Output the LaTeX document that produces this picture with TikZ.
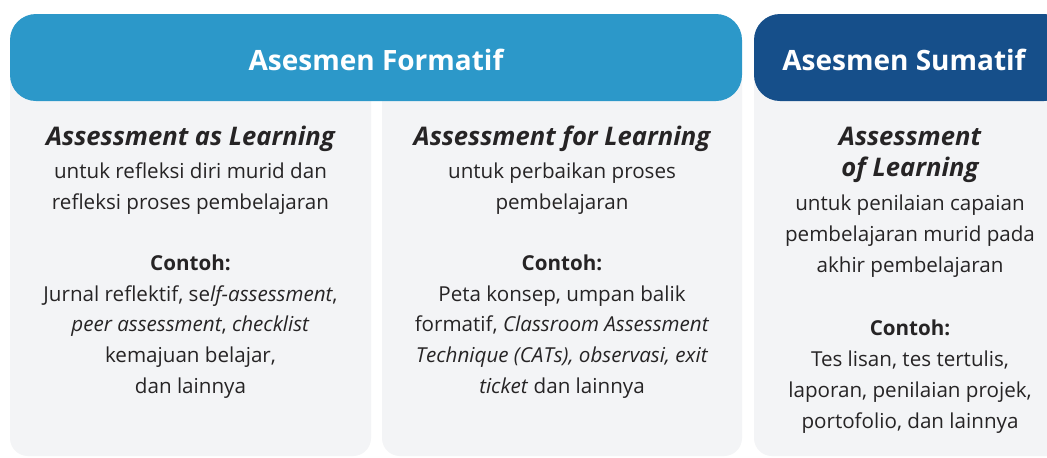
\documentclass[tikz,border=0pt]{standalone}
\usepackage{fontspec}
\setmainfont{Open Sans}
\usepackage{tikz}
\usepackage{xcolor}
\definecolor{formblue}{HTML}{2C98C9}
\definecolor{sumblue}{HTML}{164F8A}
\definecolor{panelgray}{HTML}{F3F4F6}
\definecolor{inkgray}{HTML}{262425}

\begin{document}
\begin{tikzpicture}[x=0.5pt, y=-0.5pt,
                    panel/.style={fill=panelgray, rounded corners=9pt},
                    header/.style={rounded corners=13pt},
                    headtext/.style={text=white, inner sep=0pt, font=\fontsize{14}{17}\selectfont\bfseries},
                    titletext/.style={text=inkgray, inner sep=0pt, align=center, font=\fontsize{12.8}{15.5}\selectfont\bfseries\itshape},
                    bodytext/.style={text=inkgray, inner sep=0pt, align=center, font=\fontsize{10.3}{15.4}\selectfont}]
                                \useasboundingbox (0, 0) rectangle (1047, 457);
                                \fill[white] (0, 0) rectangle (1047, 457);
                                % grey panels
                                \fill[panel] (10, 60) rectangle (371, 456);
                                \fill[panel] (382, 60) rectangle (742, 456);
                                \fill[panel] (754, 60) rectangle (1070, 456);
                                % headers
                                \fill[formblue, header] (10, 14) rectangle (742, 101);
                                \fill[sumblue, header] (754, 14) rectangle (1070, 101);
                                \node[headtext, anchor=base] (formatif) at (376, 70) {Asesmen Formatif};
                                \node[headtext, anchor=base] (sumatif) at (904, 70) {Asesmen Sumatif};
                                % as learning
                                \node[titletext, anchor=base] (asTitle) at (190.5, 145) {Assessment as Learning};
                                \node[bodytext] (asDesc) at (190.5, 188.5) {untuk refleksi diri murid dan\\refleksi proses pembelajaran};
                                \node[bodytext] (asEx) at (190.5, 326.5) {\textbf{Contoh:}\\Jurnal reflektif, se\textit{lf-assessment},\\\textit{peer assessment}, \textit{checklist}\\kemajuan belajar,\\dan lainnya};
                                % for learning
                                \node[titletext, anchor=base] (forTitle) at (562, 145) {Assessment for Learning};
                                \node[bodytext] (forDesc) at (562, 188.5) {untuk perbaikan proses\\pembelajaran};
                                \node[bodytext] (forEx) at (562, 326.5) {\textbf{Contoh:}\\Peta konsep, umpan balik\\formatif, \textit{Classroom Assessment}\\\textit{Technique (CATs), observasi, exit}\\\textit{ticket} dan lainnya};
                                % of learning
                                \node[titletext] (ofTitle) at (910, 154.5) {Assessment\\of Learning};
                                \node[bodytext] (ofDesc) at (910, 236) {untuk penilaian capaian\\pembelajaran murid pada\\akhir pembelajaran};
                                \node[bodytext] (ofEx) at (910, 376.5) {\textbf{Contoh:}\\Tes lisan, tes tertulis,\\laporan, penilaian projek,\\portofolio, dan lainnya};
                            \end{tikzpicture}
\end{document}
